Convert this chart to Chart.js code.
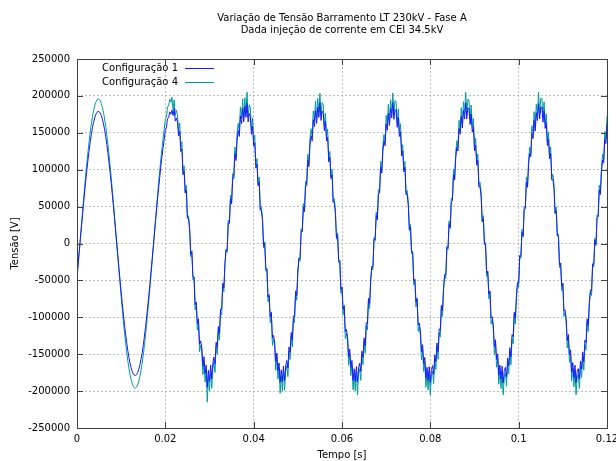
<!DOCTYPE html>
<html><head><meta charset="utf-8">
<script src="https://cdn.jsdelivr.net/npm/chart.js@4/dist/chart.umd.min.js"></script>
<style>html,body{margin:0;padding:0;background:#fff;}</style>
</head><body>
<canvas id="c" width="616" height="461"></canvas>
<script>
const chartTitle = ['Variação de Tensão Barramento LT 230kV - Fase A', 'Dada injeção de corrente em CEI 34.5kV'];
const xAxisTitle = 'Tempo [s]';
const yAxisTitle = 'Tensão [V]';
const seriesNames = ['Configuração 1', 'Configuração 4'];
const xTicks = [0, 0.02, 0.04, 0.06, 0.08, 0.1, 0.12];
const yTicks = [-250000, -200000, -150000, -100000, -50000, 0, 50000, 100000, 150000, 200000, 250000];

const tempo = [
0,0.00025,0.0005,0.00075,0.001,0.00125,0.0015,0.00175,0.002,0.00225,0.0025,0.00275,0.003,0.00325,0.0035,0.00375,0.004,0.00425,0.0045,0.00475,
0.005,0.00525,0.0055,0.00575,0.006,0.00625,0.0065,0.00675,0.007,0.00725,0.0075,0.00775,0.008,0.00825,0.0085,0.00875,0.009,0.00925,0.0095,0.00975,
0.01,0.01025,0.0105,0.01075,0.011,0.01125,0.0115,0.01175,0.012,0.01225,0.0125,0.01275,0.013,0.01325,0.0135,0.01375,0.014,0.01425,0.0145,0.01475,
0.015,0.01525,0.0155,0.01575,0.016,0.01625,0.0165,0.01675,0.017,0.01725,0.0175,0.01775,0.018,0.01825,0.0185,0.01875,0.019,0.01925,0.0195,0.01975,
0.02,0.02025,0.0205,0.02075,0.021,0.02125,0.0215,0.02175,0.022,0.02225,0.0225,0.02275,0.023,0.02325,0.0235,0.02375,0.024,0.02425,0.0245,0.02475,
0.025,0.02525,0.0255,0.02575,0.026,0.02625,0.0265,0.02675,0.027,0.02725,0.0275,0.02775,0.028,0.02825,0.0285,0.02875,0.029,0.02925,0.0295,0.02975,
0.03,0.03025,0.0305,0.03075,0.031,0.03125,0.0315,0.03175,0.032,0.03225,0.0325,0.03275,0.033,0.03325,0.0335,0.03375,0.034,0.03425,0.0345,0.03475,
0.035,0.03525,0.0355,0.03575,0.036,0.03625,0.0365,0.03675,0.037,0.03725,0.0375,0.03775,0.038,0.03825,0.0385,0.03875,0.039,0.03925,0.0395,0.03975,
0.04,0.04025,0.0405,0.04075,0.041,0.04125,0.0415,0.04175,0.042,0.04225,0.0425,0.04275,0.043,0.04325,0.0435,0.04375,0.044,0.04425,0.0445,0.04475,
0.045,0.04525,0.0455,0.04575,0.046,0.04625,0.0465,0.04675,0.047,0.04725,0.0475,0.04775,0.048,0.04825,0.0485,0.04875,0.049,0.04925,0.0495,0.04975,
0.05,0.05025,0.0505,0.05075,0.051,0.05125,0.0515,0.05175,0.052,0.05225,0.0525,0.05275,0.053,0.05325,0.0535,0.05375,0.054,0.05425,0.0545,0.05475,
0.055,0.05525,0.0555,0.05575,0.056,0.05625,0.0565,0.05675,0.057,0.05725,0.0575,0.05775,0.058,0.05825,0.0585,0.05875,0.059,0.05925,0.0595,0.05975,
0.06,0.06025,0.0605,0.06075,0.061,0.06125,0.0615,0.06175,0.062,0.06225,0.0625,0.06275,0.063,0.06325,0.0635,0.06375,0.064,0.06425,0.0645,0.06475,
0.065,0.06525,0.0655,0.06575,0.066,0.06625,0.0665,0.06675,0.067,0.06725,0.0675,0.06775,0.068,0.06825,0.0685,0.06875,0.069,0.06925,0.0695,0.06975,
0.07,0.07025,0.0705,0.07075,0.071,0.07125,0.0715,0.07175,0.072,0.07225,0.0725,0.07275,0.073,0.07325,0.0735,0.07375,0.074,0.07425,0.0745,0.07475,
0.075,0.07525,0.0755,0.07575,0.076,0.07625,0.0765,0.07675,0.077,0.07725,0.0775,0.07775,0.078,0.07825,0.0785,0.07875,0.079,0.07925,0.0795,0.07975,
0.08,0.08025,0.0805,0.08075,0.081,0.08125,0.0815,0.08175,0.082,0.08225,0.0825,0.08275,0.083,0.08325,0.0835,0.08375,0.084,0.08425,0.0845,0.08475,
0.085,0.08525,0.0855,0.08575,0.086,0.08625,0.0865,0.08675,0.087,0.08725,0.0875,0.08775,0.088,0.08825,0.0885,0.08875,0.089,0.08925,0.0895,0.08975,
0.09,0.09025,0.0905,0.09075,0.091,0.09125,0.0915,0.09175,0.092,0.09225,0.0925,0.09275,0.093,0.09325,0.0935,0.09375,0.094,0.09425,0.0945,0.09475,
0.095,0.09525,0.0955,0.09575,0.096,0.09625,0.0965,0.09675,0.097,0.09725,0.0975,0.09775,0.098,0.09825,0.0985,0.09875,0.099,0.09925,0.0995,0.09975,
0.1,0.10025,0.1005,0.10075,0.101,0.10125,0.1015,0.10175,0.102,0.10225,0.1025,0.10275,0.103,0.10325,0.1035,0.10375,0.104,0.10425,0.1045,0.10475,
0.105,0.10525,0.1055,0.10575,0.106,0.10625,0.1065,0.10675,0.107,0.10725,0.1075,0.10775,0.108,0.10825,0.1085,0.10875,0.109,0.10925,0.1095,0.10975,
0.11,0.11025,0.1105,0.11075,0.111,0.11125,0.1115,0.11175,0.112,0.11225,0.1125,0.11275,0.113,0.11325,0.1135,0.11375,0.114,0.11425,0.1145,0.11475,
0.115,0.11525,0.1155,0.11575,0.116,0.11625,0.1165,0.11675,0.117,0.11725,0.1175,0.11775,0.118,0.11825,0.1185,0.11875,0.119,0.11925,0.1195,0.11975,
0.12];

const config1 = [
-44000,-28000,-11200,5600,22400,39000,55300,71100,86200,100600,114100,126600,137900,148100,156900,164300,170200,174700,177600,178900,
178600,176800,173400,168400,162000,154100,144800,134300,122500,109700,95900,81300,65900,49900,33500,16800,0,-16800,-33500,-49900,
-65900,-81300,-95900,-109700,-122500,-134300,-144800,-154100,-162000,-168400,-173400,-176800,-178600,-178900,-177600,-174700,-170200,-164300,-156900,-148100,
-137900,-126600,-114100,-100600,-86200,-71100,-55300,-39000,-22400,-5600,11200,28000,44500,60600,76200,91100,105200,118400,130500,141400,
153100,157300,169200,170400,178300,175200,180800,173400,183000,165900,170000,164300,145700,152400,124500,128400,93200,98100,68200,72600,
34500,34000,19200,-14600,-11400,-45000,-45300,-83100,-79200,-108600,-102100,-136600,-131900,-140100,-165900,-153300,-176200,-164700,-195000,-171900,
-186600,-164800,-183400,-162400,-154000,-163100,-133800,-140300,-112500,-121700,-88900,-89300,-53900,-59900,-27500,-8800,-9000,27800,27500,59900,
53900,88300,87900,121700,112500,140300,152800,145100,173000,162400,183400,164800,185600,170900,189600,164700,176200,172300,147900,159100,
131900,136600,102100,107600,78200,83100,45300,45000,30400,-3400,-200,-34000,-34500,-72600,-69200,-99100,-93200,-128400,-124500,-133400,
-160100,-148500,-172400,-161900,-187800,-171200,-187000,-166200,-185800,-165900,-158400,-168500,-140100,-147400,-120500,-130400,-98200,-99100,-64200,-70600,
-38500,-20000,-20200,16600,16400,49000,43300,78100,78200,112600,104100,132600,145900,139100,167900,158300,180200,162700,184600,170900,
190600,166800,179400,176400,153000,165100,138800,144300,110500,116700,87900,93300,55900,55900,41500,7800,11000,-22800,-23500,-61900,
-58900,-89300,-83900,-119700,-116500,-126300,-153800,-143100,-168000,-158400,-185400,-169800,-186600,-166900,-187600,-168700,-162200,-173300,-145900,-154100,
-127900,-138600,-107100,-108600,-74200,-81100,-49300,-31000,-31400,5400,5200,38000,32500,67600,68200,103100,95200,124400,138500,132400,
162100,153500,176400,159900,182800,170200,191000,168200,181800,179900,157400,170500,145100,151400,118500,125400,97200,103100,66200,66600,
52500,19000,22200,-11600,-12400,-51000,-48300,-79100,-74200,-110600,-108100,-118600,-146900,-137100,-162900,-154300,-182200,-167700,-185600,-166900,
-188600,-170800,-165400,-177400,-151000,-160100,-134800,-146300,-115500,-117700,-83900,-91300,-59900,-41900,-42500,-5800,-6000,26800,21500,56900,
57900,93300,85900,115700,130500,125300,155800,148100,172000,156400,180400,168800,190600,168900,183600,182700,161200,175300,150900,158100,
125900,133600,106100,112600,76200,77100,63300,30000,33400,-400,-1200,-40000,-37500,-68600,-64200,-101100,-99200,-110400,-139500,-130400,
-157100,-149500,-178400,-164900,-183800,-166200,-189000,-172200,-167800,-180900,-155400,-165500,-141100,-153400,-123500,-126400,-93200,-101100,-70200,-52600,
-53500,-17000,-17200,15600,10400,46000,47300,83100,76200,106600,122100,117600,148900,142100,166900,152300,177200,166700,189600,168900,
184600,184800,164400,179400,156000,164100,132800,141300,114500,121700,85900,87300,73900,40900,44500,10800,10000,-28800,-26500,-57900,
-53900,-91300,-89900,-101700,-131500,-123300,-150800,-144100,-174000,-161400,-181400,-164800,-188600,-172900,-169600,-183700,-159200,-170300,-146900,-160100,
-130900,-134600,-102100,-110600,-80200,-63100,-64300,-28000,-28400,4400,-800,35000,36500,72600,66200,97100,113200,109400,141500,135400,
161100];

const config4 = [
-46000,-30700,-12300,6200,24600,42700,60600,77800,94400,110200,124900,138600,151000,162100,171800,179900,186400,191300,194500,195900,
195600,193600,189800,184400,177300,168700,158600,147000,134200,120100,105000,89000,72100,54700,36700,18400,0,-18400,-36700,-54700,
-72100,-89000,-105000,-120100,-134200,-147000,-158600,-168700,-177300,-184400,-189800,-193600,-195600,-195900,-194500,-191300,-186400,-179900,-171800,-162100,
-151000,-138600,-124900,-110200,-94400,-77800,-60600,-42700,-24600,-6200,12300,30700,48700,66400,83500,99800,115200,129600,142900,154900,
168000,171600,185700,186200,195800,191400,198300,181600,194700,173700,180500,174400,152400,163300,129800,138000,96100,105200,69500,79000,
34000,37600,21900,-17900,-9700,-49200,-45400,-90100,-82100,-117200,-105500,-146600,-137600,-146300,-177600,-159500,-187800,-171400,-215000,-179900,
-199600,-171700,-196100,-169800,-161000,-174700,-138900,-149800,-116400,-130800,-92300,-96800,-54600,-65700,-27400,-7800,-12000,31800,27400,65700,
54600,94800,90300,130800,116400,149800,162900,150700,185000,169800,196100,171700,197600,177900,205000,171400,187800,183500,153600,170300,
137600,146600,105500,115200,80100,90100,45400,49200,33700,-6100,2100,-37600,-34000,-79000,-71500,-107200,-96100,-138000,-129800,-139300,
-171600,-154400,-183700,-168500,-203000,-179200,-200000,-173200,-198700,-173500,-165700,-180400,-145600,-157300,-124800,-140000,-102100,-107200,-65500,-77000,
-39000,-19600,-23900,19900,15700,54200,43400,84100,80100,121200,107500,141600,155600,144300,179600,165500,192800,169400,196500,177900,
203600,173700,191100,187800,159000,176700,144900,154800,114400,124800,90300,100800,56600,60700,45400,5800,14000,-25800,-22400,-67700,
-60600,-96800,-86300,-128800,-121400,-131800,-164900,-148700,-179000,-164800,-198100,-177700,-199600,-173900,-205000,-176400,-169800,-185500,-151600,-164300,
-132600,-148600,-111500,-117200,-76100,-88100,-50400,-31200,-35700,8100,3900,42600,32000,73000,69500,111200,98100,133000,147800,137300,
173600,160400,188700,166500,194700,177200,204000,175200,193700,191500,163700,182400,151600,162300,122800,134000,100100,111200,67500,72000,
57000,17600,25900,-13900,-10700,-56200,-49400,-86100,-76100,-119200,-112500,-123600,-157600,-142300,-173600,-160500,-194800,-175400,-198500,-173900,
-205000,-178700,-173100,-189800,-157000,-170700,-139900,-156800,-120400,-126800,-86300,-98800,-61600,-42700,-47400,-3800,-8000,30800,20400,61700,
58600,100800,88300,123800,139400,129800,166900,154700,184000,162800,192100,175700,205000,175900,195500,194400,167800,187500,157600,169300,
130600,142600,109500,121200,78100,83100,68400,29200,37700,-2100,1100,-44600,-38000,-75000,-65500,-109200,-103100,-115000,-149800,-135300,
-167600,-155400,-190700,-172500,-196700,-173200,-205000,-180200,-175700,-193500,-161700,-176400,-146600,-164300,-128800,-136000,-96100,-109200,-72500,-54000,
-59000,-15600,-19900,18900,8700,50200,47400,90100,78100,114200,130500,121600,159600,148300,178600,158500,188800,173400,205000,175900,
196600,196700,171100,191800,163000,175700,137900,150800,118400,130800,88300,93800,79600,40700,49400,9800,13000,-32800,-26400,-63700,
-54600,-98800,-93300,-105800,-141400,-127800,-160900,-149700,-186000,-168800,-194100,-171700,-205000,-180900,-177500,-196400,-165800,-181500,-152600,-171300,
-136600,-144600,-105500,-119200,-83100,-65100,-70400,-27200,-31700,7100,-3100,38600,36000,79000,67500,104200,121100,113000,151800,141300,
172600];

const FONT = 'DejaVu Sans';
const lineColors = ['rgb(25,25,255)', 'rgb(0,155,155)'];
const seriesValues = [config1, config4];

const decor = {
  id: 'decor',
  afterDatasetsDraw(chart) {
    const {ctx, chartArea: a, scales: {x, y}} = chart;
    ctx.save();
    ctx.strokeStyle = '#404040';
    ctx.lineWidth = 1;
    ctx.setLineDash([]);
    ctx.beginPath();
    y.ticks.forEach(t => {
      const py = Math.round(y.getPixelForValue(t.value)) + 0.5;
      ctx.moveTo(a.left, py); ctx.lineTo(a.left + 6, py);
      ctx.moveTo(a.right, py); ctx.lineTo(a.right - 6, py);
    });
    x.ticks.forEach(t => {
      const px = Math.round(x.getPixelForValue(t.value)) + 0.5;
      ctx.moveTo(px, a.bottom); ctx.lineTo(px, a.bottom - 6);
      ctx.moveTo(px, a.top); ctx.lineTo(px, a.top + 6);
    });
    ctx.stroke();
    ctx.strokeRect(Math.round(a.left) + 0.5, Math.round(a.top) + 0.5, Math.round(a.right - a.left), Math.round(a.bottom - a.top));
    ctx.restore();
  },
  afterDraw(chart) {
    const {ctx, chartArea: a} = chart;
    ctx.save();
    ctx.fillStyle = '#000';
    ctx.font = '10px "' + FONT + '"';
    ctx.textBaseline = 'middle';
    ctx.textAlign = 'center';
    const cx = (a.left + a.right) / 2;
    chartTitle.forEach((s, i) => ctx.fillText(s, cx, 18 + 12 * i));
    ctx.textAlign = 'right';
    chart.data.datasets.forEach((d, i) => {
      const yy = a.top + 9 + 14 * i;
      ctx.fillStyle = '#000';
      ctx.fillText(d.label, a.left + 101, yy);
      ctx.strokeStyle = d.borderColor;
      ctx.lineWidth = 1;
      ctx.beginPath();
      ctx.moveTo(a.left + 108, Math.round(yy) + 0.5);
      ctx.lineTo(a.left + 137, Math.round(yy) + 0.5);
      ctx.stroke();
    });
    ctx.restore();
  }
};

new Chart(document.getElementById('c'), {
  type: 'line',
  data: {
    datasets: seriesNames.map((n, k) => ({
      label: n,
      data: tempo.map((t, i) => ({x: t, y: seriesValues[k][i]})),
      borderColor: lineColors[k],
      backgroundColor: lineColors[k],
      borderWidth: 1,
      pointRadius: 0,
      tension: 0,
      fill: false
    }))
  },
  options: {
    responsive: false,
    devicePixelRatio: 1,
    animation: false,
    layout: {padding: {top: 59, right: 9, left: 0, bottom: 0}},
    plugins: {legend: {display: false}, title: {display: false}, tooltip: {enabled: false}},
    scales: {
      x: {
        type: 'linear', min: 0, max: 0.12,
        afterBuildTicks: s => { s.ticks = xTicks.map(v => ({value: v})); },
        ticks: {callback: v => String(v), color: '#000', font: {family: FONT, size: 10}, padding: 5, maxRotation: 0, autoSkip: false},
        grid: {color: '#bdbdbd', lineWidth: 1, drawTicks: false},
        border: {display: false, dash: [2, 2]},
        title: {display: true, text: xAxisTitle, color: '#000', font: {family: FONT, size: 10}, padding: {top: 0, bottom: 0}},
        afterFit: s => { s.height = 33; s.paddingLeft = 0; s.paddingRight = 0; }
      },
      y: {
        type: 'linear', min: -250000, max: 250000,
        afterBuildTicks: s => { s.ticks = yTicks.map(v => ({value: v})); },
        ticks: {callback: v => String(v), color: '#000', font: {family: FONT, size: 10}, padding: 7, autoSkip: false},
        grid: {color: '#bdbdbd', lineWidth: 1, drawTicks: false},
        border: {display: false, dash: [2, 2]},
        title: {display: true, text: yAxisTitle, color: '#000', font: {family: FONT, size: 10}, padding: {top: 9, bottom: 0}},
        afterFit: s => { s.width = 77; }
      }
    }
  },
  plugins: [decor]
});
</script>
</body></html>
